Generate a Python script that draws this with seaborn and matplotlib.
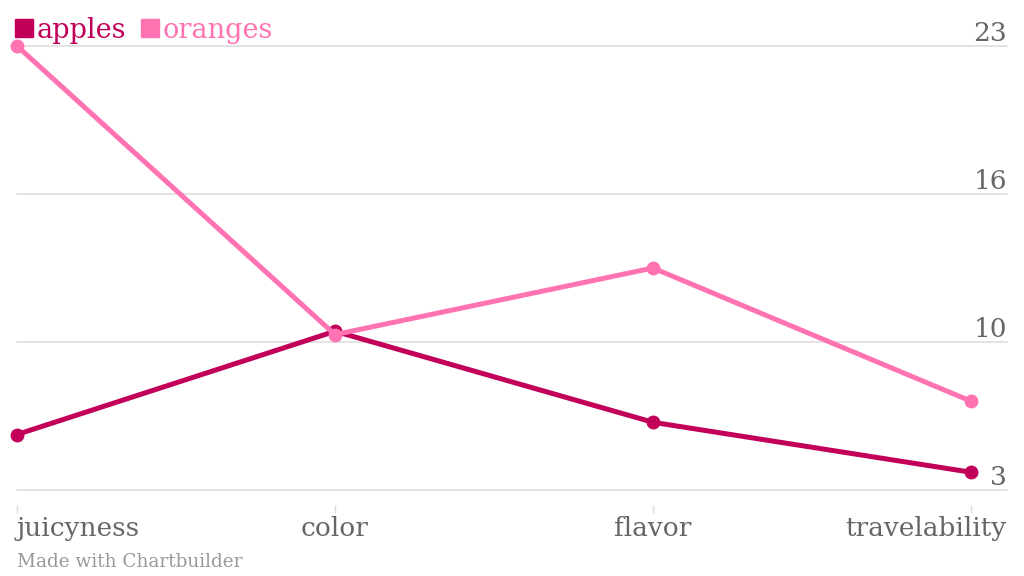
import numpy as np
import pandas as pd
import matplotlib
matplotlib.use("Agg")
import matplotlib.pyplot as plt
import matplotlib.transforms as mtransforms
from matplotlib.lines import Line2D
import seaborn as sns

categories = ["juicyness", "color", "flavor", "travelability"]
apples = [5.5, 10.15, 6.05, 3.8]
oranges = [23, 10.0, 13, 7.0]
series = ["apples", "oranges"]
colors = {"apples": "#C2005A", "oranges": "#FF73B3"}

# ticks on the right, labels rounded like chartbuilder does
y_ticks = np.linspace(3, 23, 4)
y_labels = [str(int(round(t))) for t in y_ticks]

df = pd.DataFrame({
    "category": categories * 2,
    "value": apples + oranges,
    "series": ["apples"] * 4 + ["oranges"] * 4,
})

sns.set_style("white")
plt.rcParams["font.family"] = ["DejaVu Serif"]

fig = plt.figure(figsize=(10.24, 5.76), dpi=100)
W, H = 1024, 576
left, right, top, bottom = 17, 1007, 46, 490
ax = fig.add_axes([left / W, 1 - bottom / H, (right - left) / W, (bottom - top) / H])

sns.lineplot(data=df, x="category", y="value", hue="series", palette=colors,
             hue_order=series, sort=False, marker="o", markersize=10,
             markeredgewidth=0, linewidth=3.6, ax=ax, legend=False, clip_on=False)

# last category sits at 971px, plot area runs on to 1007px
ax.set_xlim(0, 3 * (right - left) / (971 - left))
ax.set_ylim(3, 23)

for t, lab in zip(y_ticks, y_labels):
    ax.axhline(t, color="#e3e3e3", linewidth=1.4, zorder=0)
    ax.text(1.0, t, lab, transform=ax.get_yaxis_transform(), ha="right",
            va="bottom", fontsize=19, color="#666666")
    ax.lines[-1].set_clip_on(False)

ax.set_yticks([])
ax.set_xlabel("")
ax.set_ylabel("")
for s in ax.spines.values():
    s.set_visible(False)
# points: 15px gap, 8px tick, 3px pad
ax.spines["bottom"].set_position(("outward", 10.8))
ax.tick_params(axis="x", length=5.8, width=1, color="#dddddd", pad=2.2,
               labelsize=19, labelcolor="#666666", bottom=True)
ax.set_xticks(range(len(categories)))
ax.set_xticklabels(categories)
ticklabels = ax.get_xticklabels()
ticklabels[0].set_horizontalalignment("left")
ticklabels[-1].set_horizontalalignment("right")
ticklabels[-1].set_transform(ticklabels[-1].get_transform() +
                             mtransforms.ScaledTranslation(0.35, 0, fig.dpi_scale_trans))

handles = [Line2D([], [], marker="s", linestyle="", markersize=13,
                  color=colors[s]) for s in series]
leg = ax.legend(handles, series, loc="center left", bbox_to_anchor=(-0.012, 1.035),
                ncol=2, frameon=False, handlelength=0.6, handletextpad=0.15,
                columnspacing=0.6, borderaxespad=0, fontsize=19.5)
for txt, s in zip(leg.get_texts(), series):
    txt.set_color(colors[s])

fig.text(left / W, 1 - 562 / H, "Made with Chartbuilder", fontsize=13.3,
         color="#999999", va="center", ha="left")

fig.savefig("out.png", dpi=100)
